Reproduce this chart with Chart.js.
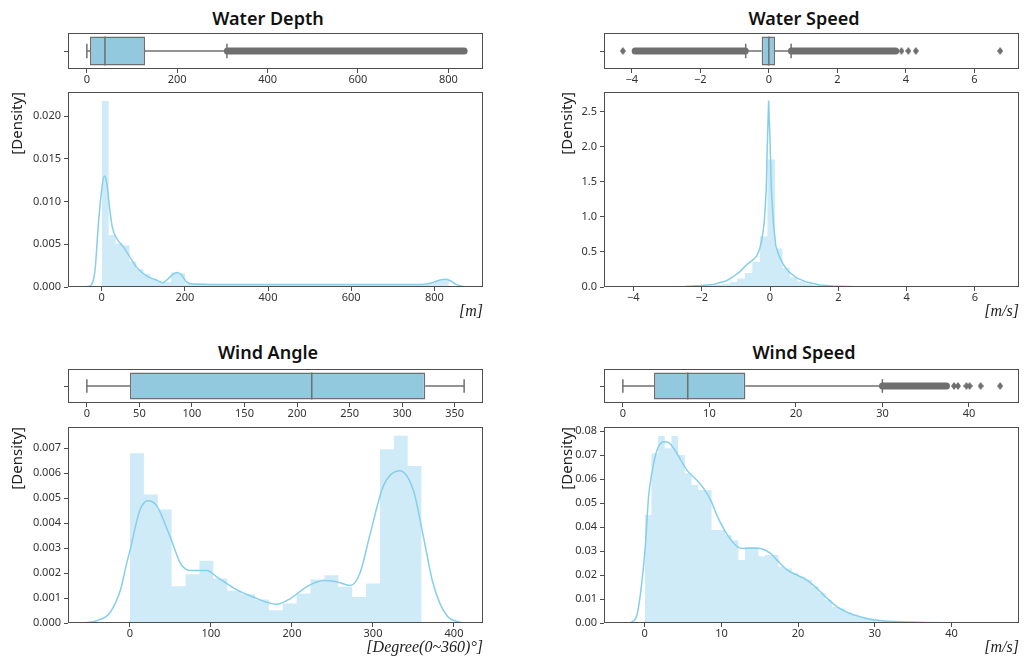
<!DOCTYPE html>
<html><head><meta charset="utf-8">
<script src="https://cdn.jsdelivr.net/npm/chart.js@4.4.1/dist/chart.umd.min.js"></script>
<style>
html,body{margin:0;padding:0;background:#fff;width:1027px;height:660px;overflow:hidden;}
canvas{position:absolute;}
.title{position:absolute;font-family:'Noto Sans',sans-serif;font-weight:600;font-size:18px;line-height:22px;color:#111;transform:translateX(-50%);white-space:nowrap;}
</style></head><body>
<div class="title" style="left:268px;top:7px">Water Depth</div>
<div class="title" style="left:804px;top:7px">Water Speed</div>
<div class="title" style="left:268px;top:341px">Wind Angle</div>
<div class="title" style="left:804px;top:341px">Wind Speed</div>
<script>
// ---------------- Water Depth ----------------
const depthBox = [0, 6.9, 40, 128.7, 310];          // whisker low, Q1, median, Q3, whisker high
const depthOutlierRuns = [[311, 835]];
const depthOutliers = [];
const depthBoxTicks = [0, 200, 400, 600, 800];
const depthHistTicks = [0, 200, 400, 600, 800];
const depthDensTicks = [0, 0.005, 0.010, 0.015, 0.020];
const depthBinStart = 0, depthBinWidth = 16.7;
const depthDensity = [0.0218,0.0061,0.0051,0.0049,0.0030,0.0021,0.0015,0.0010,0.0006,0.0006,
  0.0017,0.0016,0.0004,0.0004,0.0004,0.0003,0.0003,0.0003,0.0003,0.0003,
  0.0003,0.0003,0.0003,0.0003,0.0003,0.0003,0.0003,0.0003,0.0003,0.0003,
  0.0003,0.0003,0.0003,0.0003,0.0003,0.0003,0.0003,0.0003,0.0003,0.0003,
  0.0003,0.0003,0.0003,0.0003,0.0003,0.0003,0.0003,0.0004,0.0007,0.0009];
const depthKdeX = [-42,-30,-24,-16,-8,0,6,12,20,26,36,52,68,84,108,132,146,156,172,182,192,204,220,300,400,500,600,700,770,795,812,828,840,852,866,880];
const depthKdeY = [0,0.0001,0.0003,0.0020,0.0074,0.0114,0.0130,0.0122,0.0088,0.0069,0.0057,0.0047,0.0035,0.0023,0.0013,0.0008,0.0005,0.0008,0.0015,0.0017,0.0014,0.0006,0.00035,0.0003,0.0003,0.00028,0.00028,0.00028,0.0003,0.0005,0.0008,0.0009,0.0007,0.0003,0.0001,0];

// ---------------- Water Speed ----------------
const wsBox = [-0.675, -0.21, 0.0, 0.18, 0.65];
const wsOutlierRuns = [[-3.90, -0.69], [0.66, 3.70]];
const wsOutliers = [-4.26, 3.87, 4.07, 4.29, 6.75];
const wsBoxTicks = [-4, -2, 0, 2, 4, 6];
const wsHistTicks = [-4, -2, 0, 2, 4, 6];
const wsDensTicks = [0, 0.5, 1.0, 1.5, 2.0, 2.5];
const wsBinStart = -4.26, wsBinWidth = 0.2202;
const wsDensity = [0.0005,0.001,0.001,0.002,0.002,0.003,0.004,0.005,0.007,0.010,
  0.014,0.020,0.030,0.045,0.070,0.120,0.200,0.360,0.720,1.820,
  0.550,0.270,0.140,0.080,0.045,0.025,0.015,0.010,0.007,0.005,
  0.004,0.003,0.002,0.001,0.001,0.001,0.001,0.0005,0.0005,0.0005,
  0.0005,0.0005,0.0005,0.0003,0.0003,0.0003,0.0003,0.0003,0.0003,0.0003];
const wsKdeX = [-4.4,-3.5,-3.0,-2.5,-2.05,-1.66,-1.27,-1.07,-0.88,-0.68,-0.49,-0.39,-0.31,-0.24,-0.17,-0.11,-0.08,-0.04,0.0,0.04,0.10,0.17,0.27,0.39,0.54,0.78,1.07,1.46,1.85,2.5,3.5,5.0,6.8];
const wsKdeY = [0,0.001,0.003,0.008,0.02,0.035,0.09,0.15,0.22,0.32,0.39,0.44,0.53,0.67,0.91,1.39,2.0,2.66,2.1,1.39,0.91,0.58,0.44,0.32,0.22,0.13,0.07,0.03,0.015,0.005,0.002,0.0005,0];

// ---------------- Wind Angle ----------------
const waBox = [0, 41, 214, 322, 359];
const waOutlierRuns = [];
const waOutliers = [];
const waBoxTicks = [0, 50, 100, 150, 200, 250, 300, 350];
const waHistTicks = [0, 100, 200, 300, 400];
const waDensTicks = [0, 0.001, 0.002, 0.003, 0.004, 0.005, 0.006, 0.007];
const waBinStart = 0, waBinWidth = 17.143;
const waDensity = [0.0068,0.00515,0.00455,0.00147,0.00195,0.00249,0.00178,0.00129,0.00115,0.00094,
  0.00051,0.00078,0.00118,0.00174,0.00191,0.00145,0.00104,0.00158,0.00696,0.0075,0.00629];
const waKdeX = [-55,-40,-25,-12,-4,0,12,22,33,49,64,78,95,107,128,152,181,198,218,239,255,272,284,296,313,333,350,362,374,391,412];
const waKdeY = [0,0.0001,0.0004,0.0013,0.0024,0.0029,0.0045,0.0049,0.0047,0.0035,0.0023,0.0021,0.0021,0.00185,0.0014,0.00104,0.00075,0.00098,0.00145,0.0017,0.00165,0.0015,0.002,0.0035,0.0055,0.0061,0.0053,0.0035,0.0016,0.0003,0];

// ---------------- Wind Speed ----------------
const wspBox = [0, 3.6, 7.5, 14.16, 29.99];
const wspOutlierRuns = [[30.0, 37.4]];
const wspOutliers = [38.27, 38.73, 39.70, 40.08, 41.35, 43.6];
const wspBoxTicks = [0, 10, 20, 30, 40];
const wspHistTicks = [0, 10, 20, 30, 40];
const wspDensTicks = [0, 0.01, 0.02, 0.03, 0.04, 0.05, 0.06, 0.07, 0.08];
const wspBinStart = 0, wspBinWidth = 0.872;
const wspDensity = [0.045,0.0707,0.0779,0.0728,0.0779,0.070,0.0624,0.0575,0.0554,0.0554,
  0.0387,0.0387,0.0366,0.0345,0.0262,0.0317,0.0317,0.0278,0.0283,0.0283,
  0.0234,0.0227,0.0207,0.0193,0.018,0.0152,0.0125,0.0097,0.0067,0.006,
  0.0045,0.0035,0.0025,0.002,0.0015,0.001,0.0008,0.0006,0.0004,0.0003,
  0.0002,0.0001,0.0001,0.0001,0.0001,0.0001,0.0001,0.0001,0.0001,0.0001];
const wspKdeX = [-2.0,-1.1,-0.5,0.1,0.5,1.0,1.6,2.5,3.1,3.8,4.7,5.5,6.8,7.7,8.6,9.5,10.8,12.1,12.9,13.8,15.1,16.4,17.3,18.6,19.9,21.2,22.5,23.8,25.1,26.8,28.6,30.3,34.7,39,46.4];
const wspKdeY = [0,0.0025,0.0136,0.033,0.0526,0.0637,0.072,0.0755,0.0752,0.0727,0.0679,0.0637,0.0595,0.056,0.0512,0.0442,0.0366,0.0317,0.031,0.0313,0.031,0.029,0.026,0.022,0.0199,0.0178,0.0143,0.0102,0.0067,0.0039,0.0022,0.0011,0.0004,0.0001,0];

// ---------------- styling ----------------
const GRAY = '#6f6f6f';
const BOX_FILL = '#93c9de';
const HIST_FILL = 'rgba(135,206,235,0.4)';
const KDE_COLOR = 'rgb(135,206,235)';
const FRAME = '#4d4d4d';
const TICK = '#4d4d4d';

Chart.defaults.font.family = "'Noto Sans', 'DejaVu Sans', sans-serif";
Chart.defaults.font.size = 11;
Chart.defaults.color = '#333';
Chart.defaults.animation = false;
Chart.defaults.events = [];
Chart.defaults.plugins.legend.display = false;
Chart.defaults.plugins.tooltip.enabled = false;

const framePlugin = { id: 'frame', afterDatasetsDraw(chart) {
  const a = chart.chartArea, ctx = chart.ctx;
  ctx.save(); ctx.strokeStyle = FRAME; ctx.lineWidth = 1;
  ctx.strokeRect(Math.round(a.left) + 0.5, Math.round(a.top) + 0.5, Math.round(a.right - a.left) - 1, Math.round(a.bottom - a.top) - 1);
  ctx.restore();
}};

function diamondImage(w, h, color) {
  const c = document.createElement('canvas'); c.width = w; c.height = h;
  const g = c.getContext('2d'); g.fillStyle = color;
  g.beginPath(); g.moveTo(w / 2, 0); g.lineTo(w, h / 2); g.lineTo(w / 2, h); g.lineTo(0, h / 2); g.closePath(); g.fill();
  return c;
}
const DIAMOND = diamondImage(6, 8, GRAY);

const PAD_TOP = 12, Y_W = 68, PAD_R = 8;
function makeCanvas(left, top, w, h) {
  const c = document.createElement('canvas');
  c.width = w; c.height = h;
  c.style.left = left + 'px'; c.style.top = top + 'px'; c.style.width = w + 'px'; c.style.height = h + 'px';
  document.body.appendChild(c);
  return c;
}
const fmtX = v => v < 0 ? '\u2212' + Math.abs(v) : String(v);

function xScale(min, max, ticks, height, unit) {
  return {
    type: 'linear', position: 'bottom', min, max, offset: false,
    afterBuildTicks: ax => { ax.ticks = ticks.map(v => ({ value: v })); },
    afterFit: ax => { ax.height = height; },
    ticks: { autoSkip: false, maxRotation: 0, minRotation: 0, padding: 0, callback: v => fmtX(v) },
    grid: { drawOnChartArea: false, drawTicks: true, tickLength: 4, color: TICK, offset: false },
    border: { display: false },
    title: unit ? { display: true, text: unit, align: 'end', color: '#222',
      font: { family: "'Liberation Serif', 'DejaVu Serif', serif", style: 'italic', size: 16 },
      padding: { top: 0, bottom: 2 } } : { display: false }
  };
}

function segment(pts, width, order, cap) {
  return { type: 'scatter', showLine: true, data: pts, borderColor: GRAY, backgroundColor: GRAY,
    borderWidth: width, pointRadius: 0, borderCapStyle: cap || 'butt', order };
}

function boxChart(rect, xmin, xmax, ticks, box, runs, outliers) {
  const [L, T, R, B] = rect;
  const cv = makeCanvas(L - Y_W, T - PAD_TOP, R - L + Y_W + PAD_R, B - T + PAD_TOP + 22);
  const [lo, q1, med, q3, hi] = box;
  const ds = [];
  ds.push({ type: 'bar', indexAxis: 'y', data: [{ x: [q1, q3], y: 0 }], backgroundColor: BOX_FILL,
    borderColor: GRAY, borderWidth: 1.5, borderSkipped: false, barPercentage: 0.8, categoryPercentage: 1, order: 5 });
  ds.push(segment([{ x: lo, y: 0 }, { x: q1, y: 0 }], 1.5, 3));
  ds.push(segment([{ x: q3, y: 0 }, { x: hi, y: 0 }], 1.5, 3));
  ds.push(segment([{ x: lo, y: -0.2 }, { x: lo, y: 0.2 }], 1.5, 3));
  ds.push(segment([{ x: hi, y: -0.2 }, { x: hi, y: 0.2 }], 1.5, 3));
  ds.push(segment([{ x: med, y: -0.4 }, { x: med, y: 0.4 }], 1.5, 1));
  runs.forEach(r => ds.push(segment([{ x: r[0], y: 0 }, { x: r[1], y: 0 }], 7, 2, 'round')));
  if (outliers.length) ds.push({ type: 'scatter', data: outliers.map(v => ({ x: v, y: 0 })),
    pointStyle: DIAMOND, pointRadius: 4, order: 2 });
  new Chart(cv, {
    type: 'scatter',
    data: { datasets: ds },
    options: {
      responsive: false, maintainAspectRatio: false,
      layout: { padding: { left: 0, top: PAD_TOP, right: PAD_R, bottom: 0 } },
      scales: {
        x: xScale(xmin, xmax, ticks, 22, null),
        y: { type: 'linear', position: 'left', min: -0.5, max: 0.5, offset: false,
          afterBuildTicks: ax => { ax.ticks = [{ value: 0 }]; },
          afterFit: ax => { ax.width = Y_W; },
          ticks: { padding: 3, callback: () => '' },
          grid: { drawOnChartArea: false, drawTicks: true, tickLength: 4, color: TICK, offset: false },
          border: { display: false } }
      }
    },
    plugins: [framePlugin]
  });
}

function histChart(rect, xmin, xmax, ymax, xticks, yticks, ydec, binStart, binW, dens, kx, ky, unit, densPad, smooth) {
  const [L, T, R, B] = rect;
  const cv = makeCanvas(L - Y_W, T - PAD_TOP, R - L + Y_W + PAD_R, B - T + PAD_TOP + 36);
  const steps = dens.map((d, i) => ({ x: binStart + i * binW, y: d }));
  steps.push({ x: binStart + dens.length * binW, y: 0 });
  const kde = kx.map((x, i) => ({ x, y: ky[i] }));
  new Chart(cv, {
    type: 'scatter',
    data: { datasets: [
      { type: 'line', data: steps, stepped: true, fill: 'origin', backgroundColor: HIST_FILL,
        borderColor: 'rgba(0,0,0,0)', borderWidth: 0, pointRadius: 0, order: 2 },
      { type: 'line', data: kde, fill: false, borderColor: KDE_COLOR, borderWidth: 1.5, pointRadius: 0,
        tension: smooth ? 0.4 : 0, cubicInterpolationMode: smooth ? 'monotone' : 'default', order: 1 }
    ] },
    options: {
      responsive: false, maintainAspectRatio: false,
      layout: { padding: { left: 0, top: PAD_TOP, right: PAD_R, bottom: 0 } },
      scales: {
        x: xScale(xmin, xmax, xticks, 36, unit),
        y: { type: 'linear', position: 'left', min: 0, max: ymax, offset: false,
          afterBuildTicks: ax => { ax.ticks = yticks.map(v => ({ value: v })); },
          afterFit: ax => { ax.width = Y_W; },
          ticks: { padding: 3, callback: v => Number(v).toFixed(ydec) },
          grid: { drawOnChartArea: false, drawTicks: true, tickLength: 4, color: TICK, offset: false },
          border: { display: false },
          title: { display: true, text: '[Density]', align: 'end', color: '#222',
            font: { size: 15 }, padding: { top: densPad, bottom: 0 } } }
      }
    },
    plugins: [framePlugin]
  });
}

// Water Depth
boxChart([68, 33, 483, 69], -41.75, 876.75, depthBoxTicks, depthBox, depthOutlierRuns, depthOutliers);
histChart([68, 92, 483, 287], -81.1, 917.1, 0.02285, depthHistTicks, depthDensTicks, 3,
  depthBinStart, depthBinWidth, depthDensity, depthKdeX, depthKdeY, '[m]', 8.5, true);
// Water Speed
boxChart([604, 33, 1019, 69], -4.81, 7.30, wsBoxTicks, wsBox, wsOutlierRuns, wsOutliers);
histChart([604, 92, 1019, 287], -4.86, 7.29, 2.781, wsHistTicks, wsDensTicks, 1,
  wsBinStart, wsBinWidth, wsDensity, wsKdeX, wsKdeY, '[m/s]', 22.5, false);
// Wind Angle
boxChart([68, 369, 483, 403], -17.95, 376.95, waBoxTicks, waBox, waOutlierRuns, waOutliers);
histChart([68, 427, 483, 623], -76.5, 435.8, 0.00785, waHistTicks, waDensTicks, 3,
  waBinStart, waBinWidth, waDensity, waKdeX, waKdeY, '[Degree(0~360)°]', 8.5, true);
// Wind Speed
boxChart([604, 369, 1019, 403], -2.18, 45.78, wspBoxTicks, wspBox, wspOutlierRuns, wspOutliers);
histChart([604, 427, 1019, 623], -5.31, 48.8, 0.08167, wspHistTicks, wspDensTicks, 2,
  wspBinStart, wspBinWidth, wspDensity, wspKdeX, wspKdeY, '[m/s]', 22.5, true);
</script>
</body></html>
